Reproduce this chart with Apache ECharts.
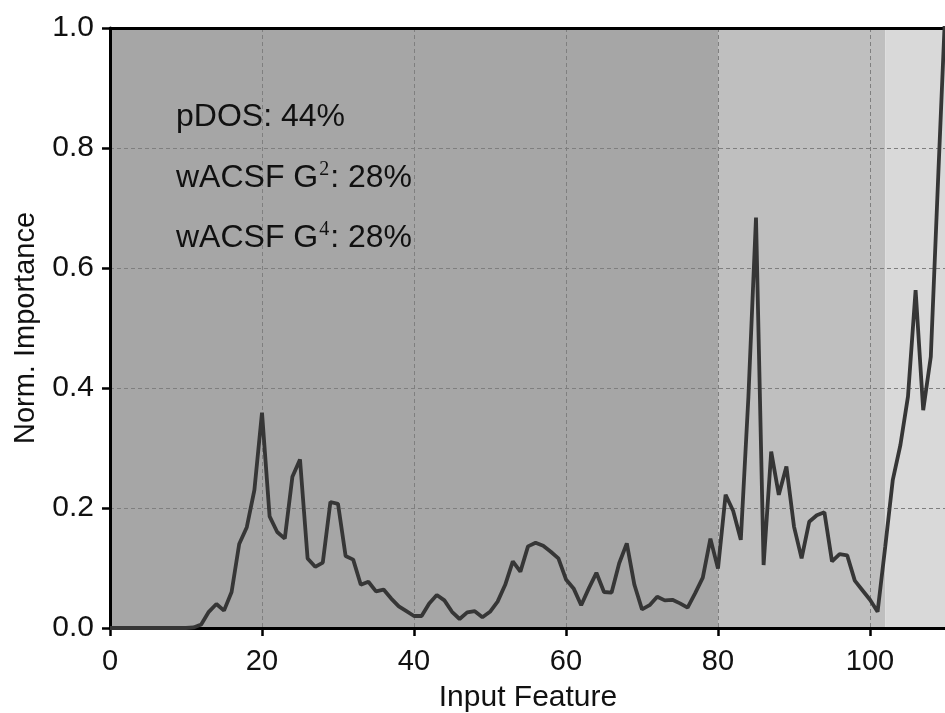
<!DOCTYPE html>
<html>
<head>
<meta charset="utf-8">
<script src="https://cdn.jsdelivr.net/npm/echarts@6/dist/echarts.min.js"></script>
<style>
html,body{margin:0;padding:0;background:#fff;}
#chart{width:945px;height:713px;}
</style>
</head>
<body>
<div id="chart"></div>
<script>
// Normalised importance per input feature (index = feature number 0..110)
const importance = [
  0, 0, 0, 0, 0, 0, 0, 0, 0, 0,
  0, 0.001, 0.006, 0.027, 0.04, 0.029, 0.06, 0.14, 0.168, 0.23,
  0.359, 0.186, 0.16, 0.149, 0.252, 0.281, 0.116, 0.102, 0.109, 0.21,
  0.207, 0.12, 0.114, 0.072, 0.077, 0.061, 0.064, 0.049, 0.036, 0.028,
  0.02, 0.02, 0.041, 0.055, 0.046, 0.027, 0.015, 0.026, 0.028, 0.018,
  0.027, 0.044, 0.072, 0.111, 0.094, 0.136, 0.142, 0.137, 0.127, 0.116,
  0.081, 0.066, 0.038, 0.066, 0.092, 0.06, 0.059, 0.108, 0.141, 0.072,
  0.031, 0.038, 0.052, 0.046, 0.047, 0.041, 0.034, 0.058, 0.084, 0.149,
  0.099, 0.222, 0.195, 0.147, 0.385, 0.684, 0.105, 0.294, 0.222, 0.269,
  0.169, 0.116, 0.177, 0.188, 0.193, 0.111, 0.123, 0.121, 0.079, 0.063,
  0.047, 0.027, 0.135, 0.247, 0.305, 0.386, 0.563, 0.363, 0.452, 0.76,
  1.06
];
// Feature-group regions (start/end feature index)
const regionStarts = [0, 80, 102];
const regionEnds = [80, 102, 110];
const regionColors = ['#a6a6a6', '#bfbfbf', '#d9d9d9'];
// Annotation labels
const groupNames = ['pDOS', 'wACSF G', 'wACSF G'];
const groupSup = ['', '2', '4'];
const groupShares = ['44%', '28%', '28%'];
const xTicks = [0, 20, 40, 60, 80, 100];
const yTicks = [0, 0.2, 0.4, 0.6, 0.8, 1.0];

const chart = echarts.init(document.getElementById('chart'), null, {renderer: 'canvas'});
const FONT = 'Liberation Sans, Arial, Helvetica, sans-serif';

const lineData = importance.map((v, i) => [i, v]);
const areas = regionStarts.map((s, i) => [
  {xAxis: s, itemStyle: {color: regionColors[i], opacity: 1}},
  {xAxis: regionEnds[i]}
]);

const annY = [119, 176, 236];
const graphics = groupNames.map((n, i) => ({
  type: 'text',
  left: 176,
  top: annY[i] - 18,
  z: 10,
  style: {
    text: '{a|' + n + '}' + (groupSup[i] ? '{s|' + groupSup[i] + '}' : '') + '{a|: ' + groupShares[i] + '}',
    rich: {
      a: {fontSize: 32, fontFamily: FONT, fill: '#111', lineHeight: 36, verticalAlign: 'bottom'},
      s: {fontSize: 20, fontFamily: 'Liberation Serif, Times New Roman, serif', fill: '#111', lineHeight: 36, verticalAlign: 'top', padding: [2, 1, 0, 1]}
    }
  }
}));

chart.setOption({
  animation: false,
  backgroundColor: '#fff',
  grid: {
    left: 110, top: 28, width: 836, height: 600,
    show: false, containLabel: false, outerBoundsMode: 'none'
  },
  xAxis: [{
    type: 'value', min: 0, max: 110, interval: 20, z: 3,
    name: 'Input Feature', nameLocation: 'middle', nameGap: 55,
    nameTextStyle: {fontSize: 30, fontFamily: FONT, color: '#111'},
    axisLine: {show: true, lineStyle: {color: '#000', width: 3}},
    axisTick: {show: true, length: 8, inside: false, lineStyle: {color: '#000', width: 2.5}},
    axisLabel: {fontSize: 29, fontFamily: FONT, color: '#111', margin: 19, showMaxLabel: false,
      formatter: v => (xTicks.indexOf(v) >= 0 ? String(v) : '')},
    splitLine: {show: true, lineStyle: {color: '#7f7f7f', width: 1, type: [4, 3]}}
  }, {
    type: 'value', min: 0, max: 110, position: 'top', z: 3,
    axisLine: {show: true, onZero: false, lineStyle: {color: '#000', width: 3}},
    axisTick: {show: false}, axisLabel: {show: false}, splitLine: {show: false}
  }],
  yAxis: {
    type: 'value', min: 0, max: 1, interval: 0.2, z: 3,
    name: 'Norm. Importance', nameLocation: 'middle', nameGap: 70,
    nameTextStyle: {fontSize: 29, fontFamily: FONT, color: '#111'},
    axisLine: {show: true, lineStyle: {color: '#000', width: 3}},
    axisTick: {show: true, length: 8, inside: false, lineStyle: {color: '#000', width: 2.5}},
    axisLabel: {fontSize: 30, fontFamily: FONT, color: '#111', margin: 16,
      formatter: v => {
        const t = yTicks.find(y => Math.abs(y - v) < 1e-9);
        return t === undefined ? '' : t.toFixed(1);
      }},
    splitLine: {show: true, lineStyle: {color: '#7f7f7f', width: 1, type: [4, 3]}}
  },
  series: [
    {
      type: 'line', data: [], z: 1, silent: true,
      markArea: {silent: true, data: areas}
    },
    {
      type: 'line', data: lineData, z: 5, symbol: 'none', clip: true,
      lineStyle: {color: '#363636', width: 3.8}
    }
  ],
  graphic: graphics
});
</script>
</body>
</html>
